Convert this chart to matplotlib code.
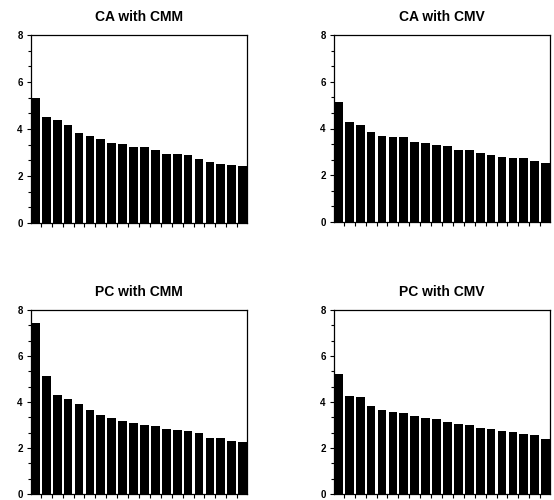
import matplotlib
matplotlib.use("Agg")
import matplotlib.pyplot as plt
from matplotlib.ticker import AutoMinorLocator, FixedLocator
import numpy as np

plt.rcParams['font.family'] = ['Liberation Sans', 'DejaVu Sans']

titles = ["CA with CMM", "CA with CMV", "PC with CMM", "PC with CMV"]
ca_cmm = [5.34, 4.49, 4.40, 4.19, 3.85, 3.72, 3.57, 3.41, 3.37, 3.24,
          3.24, 3.10, 2.94, 2.94, 2.88, 2.74, 2.61, 2.53, 2.47, 2.41]
ca_cmv = [5.15, 4.27, 4.16, 3.84, 3.70, 3.62, 3.62, 3.44, 3.37, 3.29,
          3.26, 3.09, 3.09, 2.95, 2.86, 2.80, 2.75, 2.75, 2.63, 2.52]
pc_cmm = [7.42, 5.13, 4.30, 4.13, 3.93, 3.64, 3.42, 3.32, 3.19, 3.07,
          3.01, 2.96, 2.84, 2.80, 2.74, 2.64, 2.45, 2.42, 2.32, 2.26]
pc_cmv = [5.22, 4.25, 4.20, 3.83, 3.65, 3.55, 3.51, 3.41, 3.32, 3.25,
          3.14, 3.04, 2.99, 2.87, 2.81, 2.72, 2.68, 2.62, 2.55, 2.41]
series = [ca_cmm, ca_cmv, pc_cmm, pc_cmv]
yticks = [0, 2, 4, 6, 8]

W, H = 554, 500
fig = plt.figure(figsize=(W / 100, H / 100), dpi=100)

# axes boxes in pixels: left, top, right, bottom
boxes = [(31, 35, 247, 223), (334, 35, 550, 222),
         (31, 310, 247, 494), (334, 310, 550, 494)]

bw = 0.8
for vals, title, (l, t, r, b) in zip(series, titles, boxes):
    ax = fig.add_axes([l / W, 1 - b / H, (r - l) / W, (b - t) / H])
    x = np.arange(len(vals))
    ax.bar(x, vals, width=bw, color='black', edgecolor='none')
    ax.set_xlim(-bw / 2, len(vals) - 1 + bw / 2)
    ax.set_ylim(0, 8)
    ax.set_yticks(yticks)
    ax.set_yticklabels([str(v) for v in yticks], fontsize=7, fontweight='bold')
    ax.yaxis.set_minor_locator(AutoMinorLocator(3))
    ax.xaxis.set_major_locator(FixedLocator(x[:-1] + 0.5))
    ax.set_xticklabels([])
    ax.tick_params(axis='y', which='major', length=3, width=0.8, pad=3)
    ax.tick_params(axis='y', which='minor', length=2, width=0.8)
    ax.tick_params(axis='x', which='major', length=3, width=0.8)
    for s in ax.spines.values():
        s.set_linewidth(0.9)
    ax.set_title(title, fontsize=10, fontweight='bold', pad=10)

fig.savefig("out.png", dpi=100)
